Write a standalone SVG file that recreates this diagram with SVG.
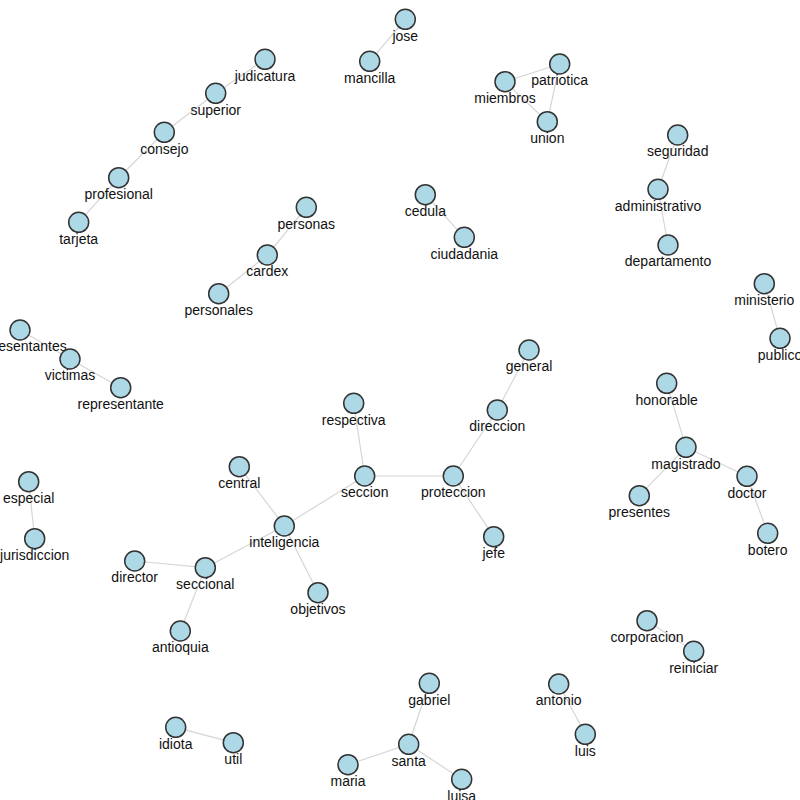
<svg xmlns="http://www.w3.org/2000/svg" width="800" height="800" viewBox="0 0 800 800">
<style>
.edge{stroke:#d6d6d6;stroke-width:1.2;fill:none}
.node circle{fill:#add8e6;stroke:#333;stroke-width:1.5}
.node text{font-family:"Liberation Sans",Arial,sans-serif;font-size:14px;fill:#111;text-anchor:middle}
</style>
<rect width="800" height="800" fill="#fff"/>
<g id="connectors">
<line class="edge" x1="405.3" y1="19.3" x2="369.7" y2="61.3"/>
<line class="edge" x1="265" y1="59.3" x2="215.7" y2="93.3"/>
<line class="edge" x1="215.7" y1="93.3" x2="164.3" y2="132.3"/>
<line class="edge" x1="164.3" y1="132.3" x2="118.7" y2="177.7"/>
<line class="edge" x1="118.7" y1="177.7" x2="78.7" y2="222.3"/>
<line class="edge" x1="505" y1="81.7" x2="559.7" y2="64"/>
<line class="edge" x1="559.7" y1="64" x2="547.3" y2="121.7"/>
<line class="edge" x1="505" y1="81.7" x2="547.3" y2="121.7"/>
<line class="edge" x1="677.7" y1="135" x2="658" y2="189.3"/>
<line class="edge" x1="658" y1="189.3" x2="668" y2="245"/>
<line class="edge" x1="306.3" y1="207.3" x2="267.3" y2="255"/>
<line class="edge" x1="267.3" y1="255" x2="218.7" y2="293.7"/>
<line class="edge" x1="425.3" y1="194.7" x2="464.3" y2="237.3"/>
<line class="edge" x1="764.3" y1="283.7" x2="780" y2="338.3"/>
<line class="edge" x1="20" y1="330" x2="70" y2="359"/>
<line class="edge" x1="70" y1="359" x2="120.7" y2="387.7"/>
<line class="edge" x1="529" y1="350" x2="497.3" y2="410"/>
<line class="edge" x1="497.3" y1="410" x2="453.3" y2="476"/>
<line class="edge" x1="364.7" y1="476" x2="453.3" y2="476"/>
<line class="edge" x1="353.7" y1="403.3" x2="364.7" y2="476"/>
<line class="edge" x1="453.3" y1="476" x2="493.7" y2="536.7"/>
<line class="edge" x1="364.7" y1="476" x2="284.3" y2="526"/>
<line class="edge" x1="239.3" y1="466.7" x2="284.3" y2="526"/>
<line class="edge" x1="284.3" y1="526" x2="205.3" y2="567.7"/>
<line class="edge" x1="284.3" y1="526" x2="318" y2="592.7"/>
<line class="edge" x1="134.7" y1="561" x2="205.3" y2="567.7"/>
<line class="edge" x1="205.3" y1="567.7" x2="180.3" y2="631"/>
<line class="edge" x1="28.7" y1="481.7" x2="34.7" y2="538.7"/>
<line class="edge" x1="666.7" y1="383.3" x2="686" y2="447.3"/>
<line class="edge" x1="686" y1="447.3" x2="747" y2="476.3"/>
<line class="edge" x1="686" y1="447.3" x2="639.3" y2="495.7"/>
<line class="edge" x1="747" y1="476.3" x2="767.7" y2="533.3"/>
<line class="edge" x1="647" y1="620.7" x2="693.7" y2="651.3"/>
<line class="edge" x1="429.3" y1="683.3" x2="408.7" y2="744.3"/>
<line class="edge" x1="408.7" y1="744.3" x2="348" y2="764.7"/>
<line class="edge" x1="408.7" y1="744.3" x2="461.7" y2="779.3"/>
<line class="edge" x1="558.7" y1="684" x2="585.3" y2="734.3"/>
<line class="edge" x1="175.7" y1="727.3" x2="233.3" y2="742.7"/>
</g>
<g id="n-jose" class="node"><circle cx="405.3" cy="19.3" r="10"/><text x="405.3" y="40.5">jose</text></g>
<g id="n-mancilla" class="node"><circle cx="369.7" cy="61.3" r="10"/><text x="369.7" y="82.5">mancilla</text></g>
<g id="n-judicatura" class="node"><circle cx="265" cy="59.3" r="10"/><text x="265" y="80.5">judicatura</text></g>
<g id="n-superior" class="node"><circle cx="215.7" cy="93.3" r="10"/><text x="215.7" y="114.5">superior</text></g>
<g id="n-consejo" class="node"><circle cx="164.3" cy="132.3" r="10"/><text x="164.3" y="153.5">consejo</text></g>
<g id="n-profesional" class="node"><circle cx="118.7" cy="177.7" r="10"/><text x="118.7" y="198.9">profesional</text></g>
<g id="n-tarjeta" class="node"><circle cx="78.7" cy="222.3" r="10"/><text x="78.7" y="243.5">tarjeta</text></g>
<g id="n-miembros" class="node"><circle cx="505" cy="81.7" r="10"/><text x="505" y="102.9">miembros</text></g>
<g id="n-patriotica" class="node"><circle cx="559.7" cy="64" r="10"/><text x="559.7" y="85.2">patriotica</text></g>
<g id="n-union" class="node"><circle cx="547.3" cy="121.7" r="10"/><text x="547.3" y="142.9">union</text></g>
<g id="n-seguridad" class="node"><circle cx="677.7" cy="135" r="10"/><text x="677.7" y="156.2">seguridad</text></g>
<g id="n-administrativo" class="node"><circle cx="658" cy="189.3" r="10"/><text x="658" y="210.5">administrativo</text></g>
<g id="n-departamento" class="node"><circle cx="668" cy="245" r="10"/><text x="668" y="266.2">departamento</text></g>
<g id="n-personas" class="node"><circle cx="306.3" cy="207.3" r="10"/><text x="306.3" y="228.5">personas</text></g>
<g id="n-cardex" class="node"><circle cx="267.3" cy="255" r="10"/><text x="267.3" y="276.2">cardex</text></g>
<g id="n-personales" class="node"><circle cx="218.7" cy="293.7" r="10"/><text x="218.7" y="314.9">personales</text></g>
<g id="n-cedula" class="node"><circle cx="425.3" cy="194.7" r="10"/><text x="425.3" y="215.9">cedula</text></g>
<g id="n-ciudadania" class="node"><circle cx="464.3" cy="237.3" r="10"/><text x="464.3" y="258.5">ciudadania</text></g>
<g id="n-ministerio" class="node"><circle cx="764.3" cy="283.7" r="10"/><text x="764.3" y="304.9">ministerio</text></g>
<g id="n-publico" class="node"><circle cx="780" cy="338.3" r="10"/><text x="780" y="359.5">publico</text></g>
<g id="n-representantes" class="node"><circle cx="20" cy="330" r="10"/><text x="20" y="351.2">representantes</text></g>
<g id="n-victimas" class="node"><circle cx="70" cy="359" r="10"/><text x="70" y="380.2">victimas</text></g>
<g id="n-representante" class="node"><circle cx="120.7" cy="387.7" r="10"/><text x="120.7" y="408.9">representante</text></g>
<g id="n-general" class="node"><circle cx="529" cy="350" r="10"/><text x="529" y="371.2">general</text></g>
<g id="n-direccion" class="node"><circle cx="497.3" cy="410" r="10"/><text x="497.3" y="431.2">direccion</text></g>
<g id="n-respectiva" class="node"><circle cx="353.7" cy="403.3" r="10"/><text x="353.7" y="424.5">respectiva</text></g>
<g id="n-seccion" class="node"><circle cx="364.7" cy="476" r="10"/><text x="364.7" y="497.2">seccion</text></g>
<g id="n-proteccion" class="node"><circle cx="453.3" cy="476" r="10"/><text x="453.3" y="497.2">proteccion</text></g>
<g id="n-jefe" class="node"><circle cx="493.7" cy="536.7" r="10"/><text x="493.7" y="557.9">jefe</text></g>
<g id="n-central" class="node"><circle cx="239.3" cy="466.7" r="10"/><text x="239.3" y="487.9">central</text></g>
<g id="n-inteligencia" class="node"><circle cx="284.3" cy="526" r="10"/><text x="284.3" y="547.2">inteligencia</text></g>
<g id="n-director" class="node"><circle cx="134.7" cy="561" r="10"/><text x="134.7" y="582.2">director</text></g>
<g id="n-seccional" class="node"><circle cx="205.3" cy="567.7" r="10"/><text x="205.3" y="588.9">seccional</text></g>
<g id="n-objetivos" class="node"><circle cx="318" cy="592.7" r="10"/><text x="318" y="613.9">objetivos</text></g>
<g id="n-antioquia" class="node"><circle cx="180.3" cy="631" r="10"/><text x="180.3" y="652.2">antioquia</text></g>
<g id="n-especial" class="node"><circle cx="28.7" cy="481.7" r="10"/><text x="28.7" y="502.9">especial</text></g>
<g id="n-jurisdiccion" class="node"><circle cx="34.7" cy="538.7" r="10"/><text x="34.7" y="559.9">jurisdiccion</text></g>
<g id="n-honorable" class="node"><circle cx="666.7" cy="383.3" r="10"/><text x="666.7" y="404.5">honorable</text></g>
<g id="n-magistrado" class="node"><circle cx="686" cy="447.3" r="10"/><text x="686" y="468.5">magistrado</text></g>
<g id="n-doctor" class="node"><circle cx="747" cy="476.3" r="10"/><text x="747" y="497.5">doctor</text></g>
<g id="n-presentes" class="node"><circle cx="639.3" cy="495.7" r="10"/><text x="639.3" y="516.9">presentes</text></g>
<g id="n-botero" class="node"><circle cx="767.7" cy="533.3" r="10"/><text x="767.7" y="554.5">botero</text></g>
<g id="n-corporacion" class="node"><circle cx="647" cy="620.7" r="10"/><text x="647" y="641.9">corporacion</text></g>
<g id="n-reiniciar" class="node"><circle cx="693.7" cy="651.3" r="10"/><text x="693.7" y="672.5">reiniciar</text></g>
<g id="n-gabriel" class="node"><circle cx="429.3" cy="683.3" r="10"/><text x="429.3" y="704.5">gabriel</text></g>
<g id="n-santa" class="node"><circle cx="408.7" cy="744.3" r="10"/><text x="408.7" y="765.5">santa</text></g>
<g id="n-maria" class="node"><circle cx="348" cy="764.7" r="10"/><text x="348" y="785.9">maria</text></g>
<g id="n-luisa" class="node"><circle cx="461.7" cy="779.3" r="10"/><text x="461.7" y="800.5">luisa</text></g>
<g id="n-antonio" class="node"><circle cx="558.7" cy="684" r="10"/><text x="558.7" y="705.2">antonio</text></g>
<g id="n-luis" class="node"><circle cx="585.3" cy="734.3" r="10"/><text x="585.3" y="755.5">luis</text></g>
<g id="n-idiota" class="node"><circle cx="175.7" cy="727.3" r="10"/><text x="175.7" y="748.5">idiota</text></g>
<g id="n-util" class="node"><circle cx="233.3" cy="742.7" r="10"/><text x="233.3" y="763.9">util</text></g>
</svg>
